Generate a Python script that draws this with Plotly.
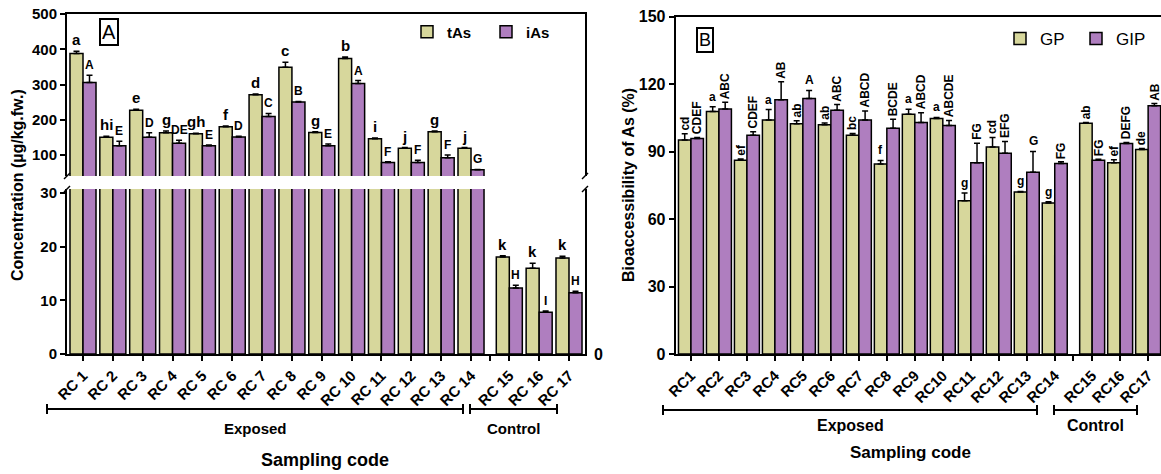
import plotly.graph_objects as go

# ---------------- data ----------------
codes_A = ["RC 1", "RC 2", "RC 3", "RC 4", "RC 5", "RC 6", "RC 7", "RC 8", "RC 9",
           "RC 10", "RC 11", "RC 12", "RC 13", "RC 14", "RC 15", "RC 16", "RC 17"]
codes_B = ["RC1", "RC2", "RC3", "RC4", "RC5", "RC6", "RC7", "RC8", "RC9",
           "RC10", "RC11", "RC12", "RC13", "RC14", "RC15", "RC16", "RC17"]

tAs = [388, 150, 227, 163, 160, 180, 271, 349, 164, 374, 146, 119, 166, 119, 18.1, 16.0, 17.9]
tAs_err = [6, 3, 3, 5, 2, 2, 2, 14, 2, 4, 2, 2, 2, 2, 0.2, 0.9, 0.3]
iAs = [306, 126, 150, 133, 126, 151, 209, 250, 126, 303, 79, 79, 92, 58, 12.3, 7.8, 11.4]
iAs_err = [20, 13, 13, 9, 2, 2, 9, 2, 5, 8, 2, 6, 8, 1, 0.5, 0.2, 0.3]
tAs_let = ["a", "hi", "e", "g", "gh", "f", "d", "c", "g", "b", "i", "j", "g", "j", "k", "k", "k"]
iAs_let = ["A", "E", "D", "DE", "E", "D", "C", "B", "E", "A", "F", "F", "F", "G", "H", "I", "H"]

GP = [95.2, 107.8, 86.2, 104.1, 102.4, 102.0, 97.3, 84.5, 106.6, 104.7, 68.1, 92.1, 72.0, 67.2, 102.6, 85.1, 90.9]
GP_err = [2.7, 2.2, 0.5, 4.6, 1.3, 0.7, 0.8, 1.6, 2.2, 0.5, 3.5, 4.2, 0.3, 0.5, 0.4, 1.3, 0.5]
GIP = [95.8, 109.0, 97.3, 113.1, 113.6, 108.4, 104.1, 100.4, 102.9, 101.6, 85.1, 89.3, 80.8, 84.7, 86.2, 93.6, 110.4]
GIP_err = [0.5, 3.0, 1.5, 8.0, 3.6, 2.5, 4.0, 4.0, 4.4, 2.2, 8.6, 5.2, 9.3, 0.8, 0.4, 0.5, 1.0]
GP_let = ["cd", "a", "ef", "a", "ab", "ab", "bc", "f", "a", "a", "g", "cd", "g", "g", "ab", "ef", "de"]
GIP_let = ["CDEF", "ABC", "CDEF", "AB", "A", "ABC", "ABCD", "BCDE", "ABCD", "ABCDE",
           "FG", "EFG", "G", "FG", "FG", "DEFG", "AB"]

n_exposed = 14

# ---------------- layout helpers ----------------
W, H = 1161, 474
FONT = "Liberation Sans, Arial, sans-serif"
C_T = "#D7D79C"
C_I = "#AF7EBF"


def px(x):
    return x / W


def py(y):
    return 1 - y / H


def positions(n, gap):
    return [i if i < n_exposed else i + gap for i in range(n)]


gapA, gapB = 0.283, 0.337
xA = positions(len(codes_A), gapA)
xB = positions(len(codes_B), gapB)
gap_tick_A = (xA[n_exposed - 1] + xA[n_exposed]) / 2
gap_tick_B = (xB[n_exposed - 1] + xB[n_exposed]) / 2

wA, wB = 0.436, 0.446

fig = go.Figure()


def add_bars(x, y, err, color, name, w, off, xa, ya, legend, show):
    fig.add_trace(go.Bar(
        x=x, y=y, width=w, offset=off, name=name, xaxis=xa, yaxis=ya,
        marker=dict(color=color, line=dict(color="black", width=1.5)),
        error_y=dict(type="data", array=err, arrayminus=[0] * len(err), symmetric=False,
                     color="black", thickness=1.5, width=3),
        legend=legend, showlegend=show, cliponaxis=True, hoverinfo="skip",
    ))


# Panel A (broken axis: lower x/y, upper x2/y2)
add_bars(xA, tAs, tAs_err, C_T, "tAs", wA, -wA, "x", "y", "legend", False)
add_bars(xA, iAs, iAs_err, C_I, "iAs", wA, 0, "x", "y", "legend", False)
add_bars(xA, tAs, tAs_err, C_T, "tAs", wA, -wA, "x2", "y2", "legend", True)
add_bars(xA, iAs, iAs_err, C_I, "iAs", wA, 0, "x2", "y2", "legend", True)
# Panel B
add_bars(xB, GP, GP_err, C_T, "GP", wB, -wB, "x3", "y3", "legend2", True)
add_bars(xB, GIP, GIP_err, C_I, "GIP", wB, 0, "x3", "y3", "legend2", True)

annotations = []
# letters panel A
A_lower_max = 30.75
for i in range(len(codes_A)):
    for val, e, let, dx, sz in ((tAs[i], tAs_err[i], tAs_let[i], -wA / 2, 15),
                                 (iAs[i], iAs_err[i], iAs_let[i], wA / 2, 12)):
        ya = "y" if val + e < A_lower_max else "y2"
        annotations.append(dict(x=xA[i] + dx, y=val + e, xref="x", yref=ya, text=let,
                                showarrow=False, yanchor="bottom", xanchor="center", yshift=1,
                                font=dict(family=FONT, size=sz, color="black", weight="bold")))
# letters panel B
for i in range(len(codes_B)):
    for val, e, let, dx in ((GP[i], GP_err[i], GP_let[i], -wB / 2),
                            (GIP[i], GIP_err[i], GIP_let[i], wB / 2)):
        annotations.append(dict(x=xB[i] + dx, y=val + e, xref="x3", yref="y3", text=let,
                                showarrow=False, yanchor="bottom", xanchor="center", yshift=1,
                                textangle=-90 if len(let) > 1 else 0,
                                font=dict(family=FONT, size=12, color="black", weight="bold")))


def txt(x, y, s, size, bold=True, angle=0, **kw):
    d = dict(x=px(x), y=py(y), xref="paper", yref="paper", text=s, showarrow=False,
             xanchor="center", yanchor="middle", textangle=angle,
             font=dict(family=FONT, size=size, color="black", weight="bold" if bold else "normal"))
    d.update(kw)
    annotations.append(d)


txt(17, 185, "Concentration (µg/kg.fw.)", 16, angle=-90)
txt(628, 185, "Bioaccessibility of As (%)", 16, angle=-90)
txt(325, 460, "Sampling code", 18)
txt(910, 452, "Sampling code", 17)
txt(255, 428, "Exposed", 15)
txt(513, 428, "Control", 15)
txt(850, 425, "Exposed", 16)
txt(1095, 425, "Control", 16)
txt(598, 354, "0", 16)
txt(108.5, 32, "A", 20, bold=False, bordercolor="black", borderwidth=2, borderpad=1)
txt(705, 40, "B", 18, bold=False, bordercolor="black", borderwidth=2, borderpad=1)

shapes = []


def seg(x0, y0, x1, y1, w=2):
    shapes.append(dict(type="line", xref="paper", yref="paper", x0=px(x0), y0=py(y0),
                       x1=px(x1), y1=py(y1), line=dict(color="black", width=w)))


def bracket(x0, x1, y):
    seg(x0, y, x1, y)
    seg(x0, y - 5, x0, y + 5)
    seg(x1, y - 5, x1, y + 5)


bracket(47, 463, 409)
bracket(470, 557, 409)
bracket(663, 1037, 410)
bracket(1054, 1137, 410)
# break marks on panel A axes
for xa_ in (67, 585):
    seg(xa_ - 3, 179, xa_ + 3, 173, 1.5)
    seg(xa_ - 3, 192, xa_ + 3, 186, 1.5)

axis_common = dict(showline=True, linecolor="black", linewidth=2, ticks="outside",
                   tickcolor="black", tickwidth=2, ticklen=5, showgrid=False, zeroline=False,
                   automargin=False,
                   tickfont=dict(family=FONT, size=15, color="black", weight="bold"))

xdomA = [px(67), px(585)]
rangeA = [-0.536, xA[-1] + 0.536]
xdomB = [px(675.7), 1.0]
rangeB = [-0.545, xB[-1] + 0.46]

fig.update_layout(
    width=W, height=H, margin=dict(l=0, r=0, t=0, b=0, autoexpand=False),
    paper_bgcolor="white", plot_bgcolor="white", barmode="overlay",
    font=dict(family=FONT, color="black"), hovermode=False,
    xaxis=dict(axis_common, domain=xdomA, range=rangeA, anchor="y",
               tickvals=xA + [gap_tick_A], ticktext=codes_A + [""], tickangle=-45,
               tickfont=dict(family=FONT, size=15, color="black", weight="bold")),
    yaxis=dict(axis_common, domain=[py(354), py(189)], range=[0, A_lower_max], anchor="x",
               tickvals=[0, 10, 20, 30], mirror=True),
    xaxis2=dict(domain=xdomA, range=rangeA, anchor="y2", showline=True, linecolor="black",
                linewidth=2, side="top", showticklabels=False, ticks="", showgrid=False,
                zeroline=False, automargin=False),
    yaxis2=dict(axis_common, domain=[py(176), py(14)], range=[40.4, 500], anchor="x2",
                tickvals=[100, 200, 300, 400, 500], mirror=True),
    xaxis3=dict(axis_common, domain=xdomB, range=rangeB, anchor="y3", mirror=True,
                tickvals=xB + [gap_tick_B], ticktext=codes_B + [""], tickangle=-45,
                tickfont=dict(family=FONT, size=15, color="black", weight="bold")),
    yaxis3=dict(axis_common, domain=[py(354), py(16.7)], range=[0, 150], anchor="x3",
                tickvals=[0, 30, 60, 90, 120, 150],
                tickfont=dict(family=FONT, size=16, color="black", weight="bold")),
    legend=dict(orientation="h", x=px(407), y=py(32), xanchor="left", yanchor="middle",
                bgcolor="rgba(0,0,0,0)", entrywidth=34, itemclick=False,
                font=dict(family=FONT, size=15, color="black", weight="bold")),
    legend2=dict(orientation="h", x=px(1000), y=py(39), xanchor="left", yanchor="middle",
                 bgcolor="rgba(0,0,0,0)", entrywidth=31, itemclick=False,
                 font=dict(family=FONT, size=17, color="black")),
    annotations=annotations, shapes=shapes,
)

fig.write_html("out.html", config={"displayModeBar": False},
               post_script="document.body.style.margin='0px';")
